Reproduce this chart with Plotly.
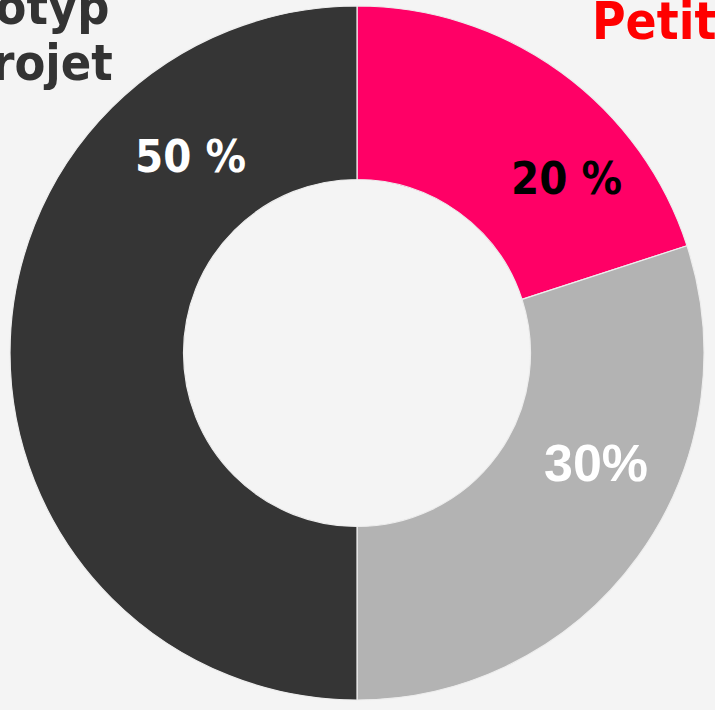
import plotly.graph_objects as go

# Data
categories = ["Petit", "Moyen", "Prototyp projet"]
values = [20, 30, 50]
label_texts = ["20 %", "30%", "50 %"]
colors = ["#FF0066", "#B3B3B3", "#353535"]

W, H = 715, 710
BG = "#F4F4F4"

def px(x):
    return x / W

def py(y):
    return 1 - y / H

cx, cy, R = 357, 353, 347

fig = go.Figure(go.Pie(
    labels=categories,
    values=values,
    hole=0.5,
    sort=False,
    direction="clockwise",
    rotation=0,
    textinfo="none",
    hoverinfo="label+percent",
    marker=dict(colors=colors, line=dict(color="#EDEDED", width=1.2)),
    domain=dict(x=[px(cx - R), px(cx + R)], y=[py(cy + R), py(cy - R)]),
    showlegend=False,
))

font_pct = "DejaVu Sans Condensed, DejaVu Sans, sans-serif"
annotations = [
    # percentage labels
    dict(text="<b>" + label_texts[0] + "</b>", x=px(566), y=py(178),
         font=dict(family=font_pct, size=45, color="#000000")),
    dict(text="<b>" + label_texts[1] + "</b>", x=px(596), y=py(463),
         font=dict(family="Liberation Sans, Arial, sans-serif", size=52, color="#FFFFFF")),
    dict(text="<b>" + label_texts[2] + "</b>", x=px(190), y=py(156),
         font=dict(family=font_pct, size=45, color="#FFFFFF")),
    # category titles (cut by page edges, as in the reference)
    dict(text="<b>Prototyp</b>", x=px(112), y=py(7), xanchor="right",
         font=dict(family=font_pct, size=50, color="#333333")),
    dict(text="<b>projet</b>", x=px(115), y=py(63), xanchor="right",
         font=dict(family=font_pct, size=50, color="#333333")),
    dict(text="<b>" + categories[0] + "</b>", x=px(590), y=py(22), xanchor="left",
         font=dict(family=font_pct, size=51, color="#FF0000")),
]
for a in annotations:
    a.setdefault("xanchor", "center")
    a["yanchor"] = "middle"
    a["xref"] = "paper"
    a["yref"] = "paper"
    a["showarrow"] = False

fig.update_layout(
    width=W, height=H,
    margin=dict(l=0, r=0, t=0, b=0),
    paper_bgcolor=BG, plot_bgcolor=BG,
    annotations=annotations,
)

fig.write_html(
    "out.html",
    config={"displayModeBar": False},
    post_script="document.body.style.margin='0';document.body.style.background='#F4F4F4';document.body.style.overflow='hidden';",
)
